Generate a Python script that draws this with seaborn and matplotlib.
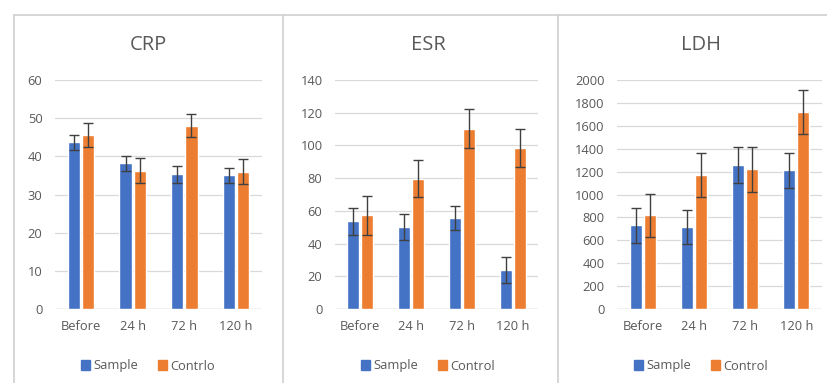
import pandas as pd
import seaborn as sns
import matplotlib.pyplot as plt
from matplotlib.lines import Line2D

sns.set_theme(style="white")
plt.rcParams['font.family'] = ['Open Sans', 'DejaVu Sans']

# data
times = ['Before', '24 h', '72 h', '120 h']

crp_sample = [43.7, 38.2, 35.3, 35.0]
crp_control = [45.6, 36.2, 48.0, 36.0]
crp_sample_err = [2.0, 2.0, 2.2, 2.0]
crp_control_err = [3.2, 3.3, 3.0, 3.3]

esr_sample = [53.5, 50.3, 55.8, 24.0]
esr_control = [57.3, 79.5, 110.2, 98.3]
esr_sample_err = [8.0, 8.0, 7.3, 7.8]
esr_control_err = [12.0, 11.3, 11.8, 11.7]

ldh_sample = [730, 716, 1257, 1213]
ldh_control = [818, 1169, 1219, 1722]
ldh_sample_err = [155, 152, 158, 152]
ldh_control_err = [188, 190, 196, 190]

panels = [
    ('CRP', crp_sample, crp_control, crp_sample_err, crp_control_err, 'Contrlo', 60, 10),
    ('ESR', esr_sample, esr_control, esr_sample_err, esr_control_err, 'Control', 140, 20),
    ('LDH', ldh_sample, ldh_control, ldh_sample_err, ldh_control_err, 'Control', 2000, 200),
]

W, H = 828, 383
fig = plt.figure(figsize=(W / 100, H / 100), dpi=100)

blue = '#4472C4'
orange = '#ED7D31'
grey_txt = '#595959'
grid_c = '#D9D9D9'

# panel frames (pixel positions)
frame_c = '#D0D0D0'
fig.add_artist(Line2D([14 / W, 1], [1 - 14.5 / H, 1 - 14.5 / H], color=frame_c, lw=1.2))
for xp in [14, 282.5, 558]:
    fig.add_artist(Line2D([xp / W, xp / W], [0, 1 - 14.5 / H], color=frame_c, lw=1.2))

axes_px = [(55, 262), (335, 538), (617, 822)]
centers_px = [148, 428, 701]
top_px, bot_px = 80, 309

for (name, s, c, se, ce, clab, ymax, step), (x0, x1), cx in zip(panels, axes_px, centers_px):
    ax = fig.add_axes([x0 / W, 1 - bot_px / H, (x1 - x0) / W, (bot_px - top_px) / H])
    df = pd.DataFrame({
        'time': times * 2,
        'value': s + c,
        'err': se + ce,
        'group': ['Sample'] * 4 + [clab] * 4,
    })
    sns.barplot(data=df, x='time', y='value', hue='group', order=times,
                hue_order=['Sample', clab], palette=[blue, orange], saturation=1,
                width=0.55, gap=0.15, errorbar=None, ax=ax, zorder=2)
    # error bars at the bar centres
    for cont, errs in zip(ax.containers, [se, ce]):
        xs = [b.get_x() + b.get_width() / 2 for b in cont]
        ys = [b.get_height() for b in cont]
        ax.errorbar(xs, ys, yerr=errs, fmt='none', ecolor='#404040',
                    elinewidth=1.0, capsize=3.5, capthick=1.0, zorder=3)
    ax.set_ylim(0, ymax)
    ax.set_xlim(-0.5, 3.5)
    ax.set_yticks(range(0, ymax + 1, step))
    ax.yaxis.grid(True, color=grid_c, lw=0.9, zorder=0)
    ax.set_axisbelow(True)
    for sp in ax.spines.values():
        sp.set_visible(False)
    ax.axhline(0, color='#CFCFCF', lw=1.0, zorder=1)
    ax.tick_params(axis='both', length=0, labelsize=9.3, colors=grey_txt)
    ax.tick_params(axis='y', pad=9)
    ax.tick_params(axis='x', pad=8)
    ax.set_xlabel('')
    ax.set_ylabel('')
    ax.get_legend().remove()
    fig.text(cx / W, 1 - 45 / H, name, ha='center', va='center',
             fontsize=14.5, color=grey_txt)
    handles = [plt.Rectangle((0, 0), 1, 1, color=blue),
               plt.Rectangle((0, 0), 1, 1, color=orange)]
    fig.legend(handles, ['Sample', clab], loc='center',
               bbox_to_anchor=(cx / W, 1 - 366 / H), ncol=2, frameon=False,
               fontsize=9.3, labelcolor=grey_txt, handlelength=0.7,
               handleheight=0.7, handletextpad=0.25, columnspacing=1.5)

fig.savefig('out.png', dpi=100, facecolor='white')
